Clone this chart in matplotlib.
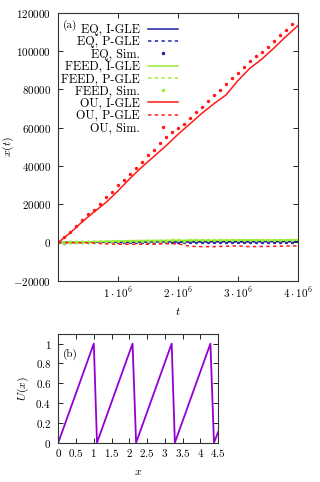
import numpy as np
import matplotlib

matplotlib.use("Agg")

from matplotlib import pyplot as plt

plt.rcParams["font.family"] = "cmr10"
plt.rcParams["mathtext.fontset"] = "cm"
plt.rcParams["axes.formatter.use_mathtext"] = True
plt.rcParams["axes.unicode_minus"] = False

# time grids (s)
t_line = np.arange(21) * 2e5
t_sim = np.arange(40) * 1e5

# panel (a): displacement x(t)
eq_igle = [0, 50, 100, 150, 200, 200, 250, 250, 300, 300, 300, 350, 350, 350, 400, 400, 400, 450, 450, 500, 500]
eq_pgle = [0, 40, 90, 140, 180, 200, 230, 250, 280, 300, 310, 330, 350, 360, 380, 400, 410, 430, 450, 480, 500]
eq_sim = [0, -50, 0, 50, 80, 100, 120, 150, 180, 200, 220, 240, 250, 260, 280, 300, 300, 320, 330, 340,
          350, 350, 360, 370, 380, 390, 400, 400, 410, 420, 430, 430, 440, 450, 460, 460, 470, 480, 490, 500]

feed_igle = [0, 100, 250, 450, 650, 800, 900, 1000, 1050, 1050, 1100, 1100, 1150, 1150, 1200, 1200, 1250, 1250, 1250, 1300, 1300]
feed_pgle = [0, 90, 240, 440, 640, 790, 900, 990, 1040, 1060, 1090, 1110, 1140, 1160, 1190, 1210, 1240, 1250, 1260, 1290, 1300]
feed_sim = [0, -100, 0, 100, 150, 200, 250, 300, 400, 500, 550, 650, 700, 800, 850, 900, 950, 1000, 1000, 1050,
            1050, 1000, 1050, 1100, 1100, 1150, 1100, 1150, 1200, 1200, 1250, 1200, 1250, 1200, 1250, 1250, 1300, 1300, 1300, 1300]

ou_igle = [0, 5000, 10800, 16000, 21000, 27000, 33500, 39500, 45000, 50500, 56500, 62000, 67500, 72500, 77000,
           84500, 91000, 95800, 101500, 107500, 113200]
ou_pgle = [0, -100, -150, -250, -700, -900, -900, -950, -900, -600, -700, -2000, -2200, -2200, -2000, -1800,
           -2200, -2100, -2000, -1900, -1800]
ou_sim = [0, 2600, 5700, 8700, 11700, 14800, 17100, 20200, 23900, 26300, 29800, 32700, 35700, 38800, 42000,
          45800, 48400, 51900, 55200, 57600, 59700, 62000, 64900, 68200, 71000, 74100, 77300, 79900, 82900, 86000,
          88800, 91900, 94700, 97300, 99600, 102000, 105200, 108300, 111100, 114400]

# panel (b): ratchet potential U(x)
x_pot = [0, 1.0, 1.09, 2.09, 2.19, 3.19, 3.28, 4.28, 4.38, 4.5]
u_pot = [0, 1, 0, 1, 0, 1, 0, 1, 0, 0.11]

y_ticks = [-20000, 0, 20000, 40000, 60000, 80000, 100000, 120000]
t_ticks = [1e6, 2e6, 3e6, 4e6]
t_tick_labels = [r"$1\cdot10^{6}$", r"$2\cdot10^{6}$", r"$3\cdot10^{6}$", r"$4\cdot10^{6}$"]
xb_ticks = [0, 0.5, 1, 1.5, 2, 2.5, 3, 3.5, 4, 4.5]
ub_ticks = [0, 0.2, 0.4, 0.6, 0.8, 1]

BLUE = "#1f1fa8"
GREEN = "#99ee33"
RED = "#ff1a1a"
PURPLE = "#9400d3"
FS = 8
LEG_FS = 8.8


def style_axes(ax):
    ax.tick_params(direction="in", top=True, right=True, length=3.5, width=0.6, labelsize=FS)
    ax.tick_params(axis="y", pad=5)
    ax.tick_params(axis="x", pad=3)
    for s in ax.spines.values():
        s.set_linewidth(0.8)
        s.set_color("#333333")


fig = plt.figure(figsize=(3.2, 4.82), dpi=100)

ax = fig.add_axes([0.182, 0.4176, 0.748, 0.5556])
lw = 1.1
dash = (0, (2.2, 2.2))
ms = 2.5
ax.plot(t_line, eq_igle, color=BLUE, lw=lw, label="EQ, I-GLE")
ax.plot(t_line, eq_pgle, color=BLUE, lw=lw, ls=dash, label="EQ, P-GLE")
ax.plot(t_sim, eq_sim, "o", color=BLUE, ms=ms, mew=0, label="EQ, Sim.")
ax.plot(t_line, feed_igle, color=GREEN, lw=lw, label="FEED, I-GLE")
ax.plot(t_line, feed_pgle, color=GREEN, lw=lw, ls=dash, label="FEED, P-GLE")
ax.plot(t_sim, feed_sim, "o", color=GREEN, ms=ms, mew=0, label="FEED, Sim.")
ax.plot(t_line, ou_igle, color=RED, lw=lw, label="OU, I-GLE")
ax.plot(t_line, ou_pgle, color=RED, lw=lw, ls=dash, label="OU, P-GLE")
ax.plot(t_sim, ou_sim, "o", color=RED, ms=ms, mew=0, label="OU, Sim.")

ax.set_xlim(0, 4e6)
ax.set_ylim(-20000, 120000)
ax.set_yticks(y_ticks)
ax.set_yticklabels([f"${v}$" for v in y_ticks])
ax.set_xticks(t_ticks)
ax.set_xticklabels(t_tick_labels)
style_axes(ax)
ax.set_xlabel(r"$t$", fontsize=FS + 0.5, labelpad=5)
ax.set_ylabel(r"$x(t)$", fontsize=FS + 0.5)
ax.yaxis.set_label_coords(-0.178, 0.5)
ax.text(0.018, 0.975, "(a)", transform=ax.transAxes, fontsize=FS, va="top", ha="left")

leg = ax.legend(loc="upper left", bbox_to_anchor=(-0.024, 0.9905), frameon=False, markerfirst=False,
                fontsize=LEG_FS, handlelength=2.4, handletextpad=0.7, labelspacing=0.01, borderpad=0.2,
                numpoints=1)

axb = fig.add_axes([0.182, 0.0815, 0.5, 0.2262])
axb.plot(x_pot, u_pot, color=PURPLE, lw=1.3)
axb.set_xlim(0, 4.5)
axb.set_ylim(0, 1.1)
axb.set_xticks(xb_ticks)
axb.set_xticklabels([f"${v:g}$" for v in xb_ticks])
axb.set_yticks(ub_ticks)
axb.set_yticklabels([f"${v:g}$" for v in ub_ticks])
style_axes(axb)
axb.set_xlabel(r"$x$", fontsize=FS + 0.5, labelpad=6)
axb.set_ylabel(r"$U(x)$", fontsize=FS + 0.5)
axb.yaxis.set_label_coords(-0.170, 0.5)
axb.text(0.03, 0.86, "(b)", transform=axb.transAxes, fontsize=FS, va="top", ha="left")

fig.savefig("out.png", dpi=100)
